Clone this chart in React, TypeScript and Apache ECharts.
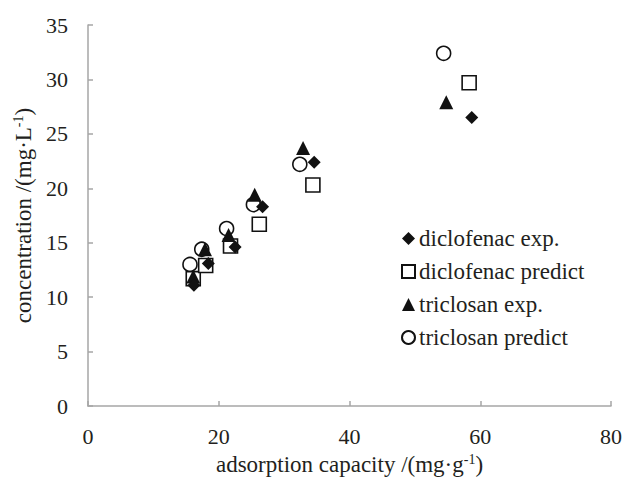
import React, { useEffect, useRef } from "react";
import * as echarts from "echarts";

const diclofenacExpX = [16.2, 18.4, 22.5, 26.7, 34.6, 58.7];
const diclofenacExpY = [11.1, 13.1, 14.6, 18.3, 22.4, 26.5];
const diclofenacPredX = [16.1, 18.0, 21.8, 26.2, 34.4, 58.3];
const diclofenacPredY = [11.7, 12.9, 14.7, 16.7, 20.3, 29.7];
const triclosanExpX = [16.1, 17.9, 21.5, 25.5, 32.9, 54.8];
const triclosanExpY = [11.9, 14.4, 15.7, 19.4, 23.7, 27.9];
const triclosanPredX = [15.6, 17.4, 21.2, 25.3, 32.4, 54.4];
const triclosanPredY = [13.0, 14.4, 16.3, 18.5, 22.2, 32.4];

const seriesNames = ["diclofenac exp.", "diclofenac predict", "triclosan exp.", "triclosan predict"];

const pairs = (xs: number[], ys: number[]) => xs.map((x, i) => [x, ys[i]]);

const FONT = "'Liberation Serif', 'Times New Roman', serif";
const TEXT = "#231f20";
const AXIS = "#a6a6a6";
const MARK = "#111111";

export default function App() {
  const ref = useRef<HTMLDivElement>(null);
  useEffect(() => {
    if (!ref.current) return;
    const chart = echarts.init(ref.current, undefined, { renderer: "svg" });
    const solid = { color: MARK, opacity: 1 };
    const hollow = { color: "#ffffff", borderColor: MARK, borderWidth: 1.6, opacity: 1 };
    const titleRich = {
      a: { fontFamily: FONT, fontSize: 23, color: TEXT },
      s: { fontFamily: FONT, fontSize: 14, color: TEXT, verticalAlign: "top", padding: [0, 0, 11, 0] },
    };
    chart.setOption({
      animation: false,
      backgroundColor: "#ffffff",
      textStyle: { fontFamily: FONT, color: TEXT },
      grid: { left: 88, right: 14, top: 25, bottom: 75 },
      legend: {
        orient: "vertical",
        left: 396,
        top: 222,
        itemGap: 10,
        itemWidth: 13,
        itemHeight: 13,
        textStyle: { fontFamily: FONT, fontSize: 23, color: TEXT, padding: [0, 0, 0, -1] },
        data: [
          { name: seriesNames[0], icon: "diamond" },
          { name: seriesNames[1], icon: "rect" },
          { name: seriesNames[2], icon: "triangle" },
          { name: seriesNames[3], icon: "circle" },
        ],
      },
      xAxis: {
        type: "value",
        min: 0,
        max: 80,
        interval: 20,
        name: "{a|adsorption capacity /(mg·g}{s|-1}{a|)}",
        nameLocation: "middle",
        nameGap: 46,
        nameTextStyle: { rich: titleRich },
        axisLine: { lineStyle: { color: AXIS, width: 1.5 } },
        axisTick: { inside: true, length: 5, lineStyle: { color: AXIS, width: 1.5 } },
        axisLabel: { fontFamily: FONT, fontSize: 22, color: TEXT, margin: 19 },
        splitLine: { show: false },
      },
      yAxis: {
        type: "value",
        min: 0,
        max: 35,
        interval: 5,
        name: "{a|concentration /(mg·L}{s|-1}{a|)}",
        nameLocation: "middle",
        nameGap: 51,
        nameTextStyle: { rich: titleRich },
        axisLine: { show: true, lineStyle: { color: AXIS, width: 1.5 } },
        axisTick: { show: true, inside: true, length: 5, lineStyle: { color: AXIS, width: 1.5 } },
        axisLabel: { fontFamily: FONT, fontSize: 22, color: TEXT, margin: 20 },
        splitLine: { show: false },
      },
      series: [
        {
          name: seriesNames[3],
          type: "scatter",
          symbol: "circle",
          symbolSize: 14,
          itemStyle: hollow,
          data: pairs(triclosanPredX, triclosanPredY),
        },
        {
          name: seriesNames[1],
          type: "scatter",
          symbol: "rect",
          symbolSize: 14,
          itemStyle: hollow,
          data: pairs(diclofenacPredX, diclofenacPredY),
        },
        {
          name: seriesNames[2],
          type: "scatter",
          symbol: "triangle",
          symbolSize: 14,
          itemStyle: solid,
          data: pairs(triclosanExpX, triclosanExpY),
        },
        {
          name: seriesNames[0],
          type: "scatter",
          symbol: "diamond",
          symbolSize: 13,
          itemStyle: solid,
          data: pairs(diclofenacExpX, diclofenacExpY),
        },
      ],
    });
    return () => chart.dispose();
  }, []);
  return (
    <div
      ref={ref}
      style={{ position: "fixed", left: 0, top: 0, width: 625, height: 481, background: "#fff" }}
    />
  );
}
